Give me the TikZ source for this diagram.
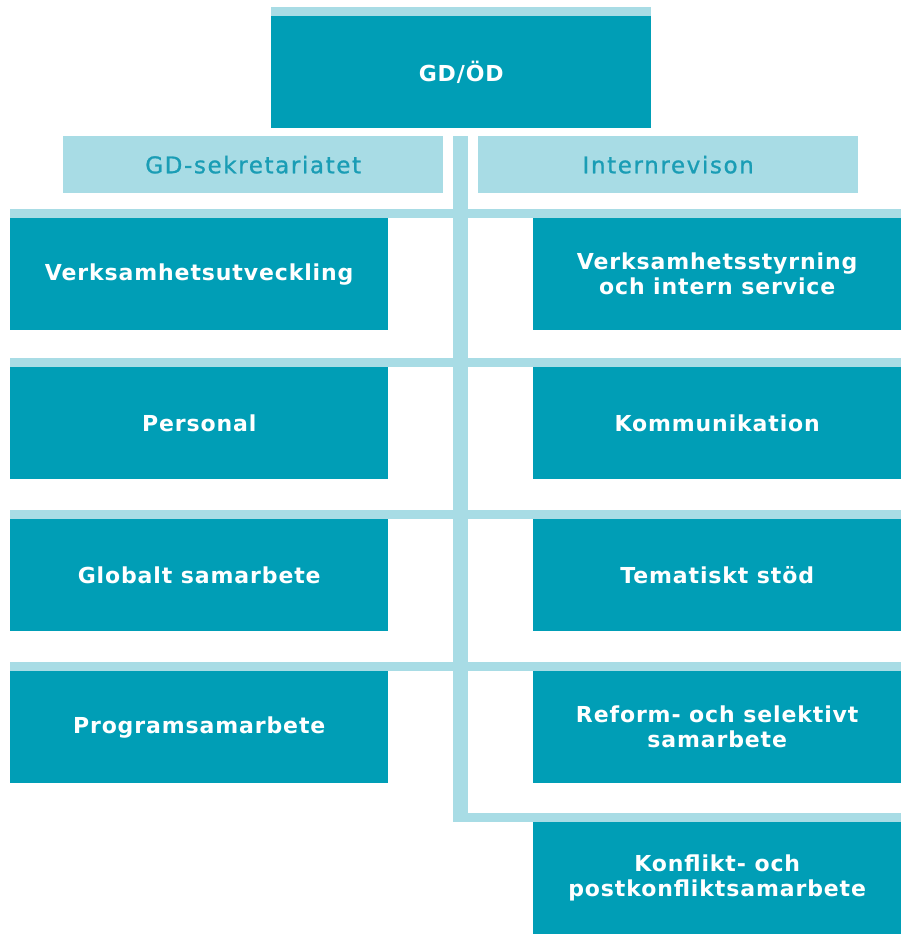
\documentclass[tikz,border=0pt]{standalone}
\usepackage{fontspec}
\newfontfamily\boxfont{DejaVu Sans}[FakeStretch=1.0, LetterSpace=4]
\newfontfamily\litefont{DejaVu Sans}[FakeStretch=1.0, LetterSpace=7, FakeBold=1]
\definecolor{darkteal}{RGB}{0,158,182}
\definecolor{lightteal}{RGB}{168,220,229}
\definecolor{tealtext}{RGB}{26,157,181}
\begin{document}
\begin{tikzpicture}[x=1pt,y=-1pt,
  dark/.style={fill=darkteal, text=white, font=\boxfont\bfseries\fontsize{22}{25}\selectfont, anchor=north west, inner sep=0pt, align=center, minimum width=378pt, minimum height=112pt},
  lite/.style={fill=lightteal, text=tealtext, font=\litefont\fontsize{23}{24}\selectfont, anchor=north west, inner sep=0pt, minimum width=380pt, minimum height=57pt},
  bar/.style={fill=lightteal}]
\useasboundingbox (0,0) rectangle (901,934);
% top
\fill[bar] (271,7) rectangle (651,16);
\node[dark, minimum width=380pt] (gd) at (271,16) {GD/ÖD};
\node[lite] (sek) at (63,136) {GD-sekretariatet};
\node[lite] (int) at (478,136) {Internrevison};
% trunk
\fill[bar] (453,136) rectangle (468,822);
% row bars
\fill[bar] (10,209) rectangle (901,218);
\fill[bar] (10,358) rectangle (901,367);
\fill[bar] (10,510) rectangle (901,519);
\fill[bar] (10,662) rectangle (901,671);
\fill[bar] (453,813) rectangle (901,822);
% left
\node[dark] (vu) at (10,218) {Verksamhetsutveckling};
\node[dark] (pe) at (10,367) {Personal};
\node[dark] (gs) at (10,519) {Globalt samarbete};
\node[dark] (ps) at (10,671) {Programsamarbete};
% right
\node[dark, minimum width=368pt] (vs) at (533,218) {Verksamhetsstyrning\\och intern service};
\node[dark, minimum width=368pt] (ko) at (533,367) {Kommunikation};
\node[dark, minimum width=368pt] (ts) at (533,519) {Tematiskt stöd};
\node[dark, minimum width=368pt] (rs) at (533,671) {Reform- och selektivt\\samarbete};
\node[dark, minimum width=368pt] (kp) at (533,822) {Konflikt- och\\postkonfliktsamarbete};
\end{tikzpicture}
\end{document}
